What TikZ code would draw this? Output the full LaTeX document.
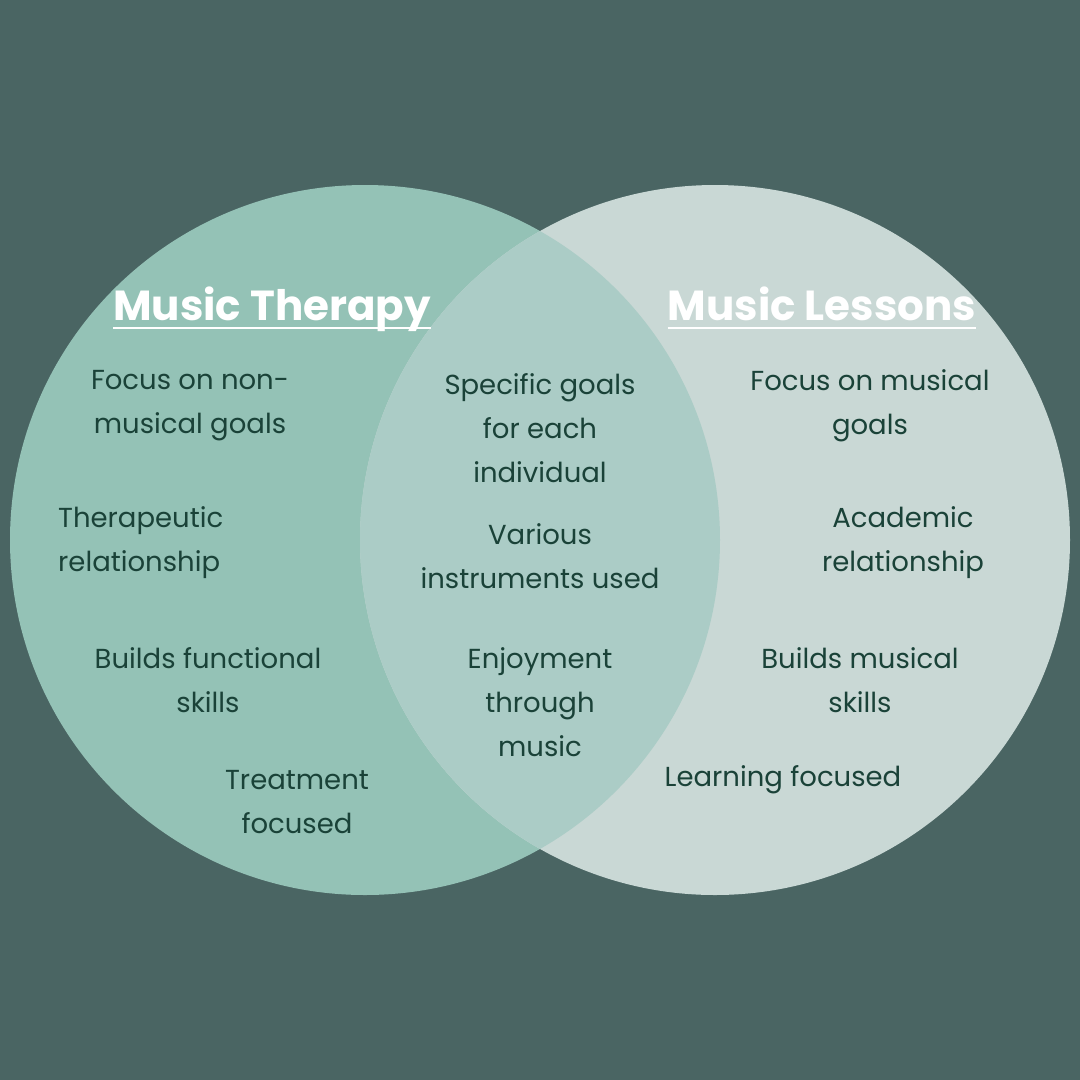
\documentclass[tikz,border=0pt]{standalone}
\usepackage{fontspec}
\setmainfont{Poppins}
\definecolor{bg}{HTML}{4A6563}
\definecolor{lc}{HTML}{94C2B6}
\definecolor{rc}{HTML}{C9D8D5}
\definecolor{mc}{HTML}{ABCCC6}
\definecolor{tx}{HTML}{1A4238}
\begin{document}
\begin{tikzpicture}[x=1pt,y=-1pt,
  item/.style={text=tx,align=center,font=\fontsize{27.5}{44}\selectfont,inner sep=0pt},
  ttl/.style={text=white,font=\fontsize{42}{48}\selectfont\bfseries,inner sep=0pt,anchor=base},
  ul/.style={white,line width=2.5pt}]
\fill[bg] (0,0) rectangle (1080,1080);
\fill[lc] (365,540) circle (355);
\fill[rc] (715,540) circle (355);
\begin{scope}
\clip (365,540) circle (355);
\fill[mc] (715,540) circle (355);
\end{scope}
\node[ttl] (t1) at (272,320) {Music Therapy};
\node[ttl] (t2) at (822,320) {Music Lessons};
\draw[ul] ([yshift=-8pt]t1.base west) -- ([yshift=-8pt]t1.base east);
\draw[ul] ([yshift=-8pt]t2.base west) -- ([yshift=-8pt]t2.base east);
\node[item] (a1) at (190,406) {Focus on non-\\musical goals};
\node[item,align=left,anchor=west] (a2) at (58,543) {Therapeutic\\relationship};
\node[item] (a3) at (208,680) {Builds functional\\skills};
\node[item] (a4) at (297,802) {Treatment\\focused};
\node[item] (m1) at (540,428) {Specific goals\\for each\\individual};
\node[item] (m2) at (540,556) {Various\\instruments used};
\node[item] (m3) at (540,702) {Enjoyment\\through\\music};
\node[item] (b1) at (870,406) {Focus on musical\\goals};
\node[item] (b2) at (903,543) {Academic\\relationship};
\node[item] (b3) at (860,680) {Builds musical\\skills};
\node[item] (b4) at (783,780) {Learning focused};
\end{tikzpicture}
\end{document}
